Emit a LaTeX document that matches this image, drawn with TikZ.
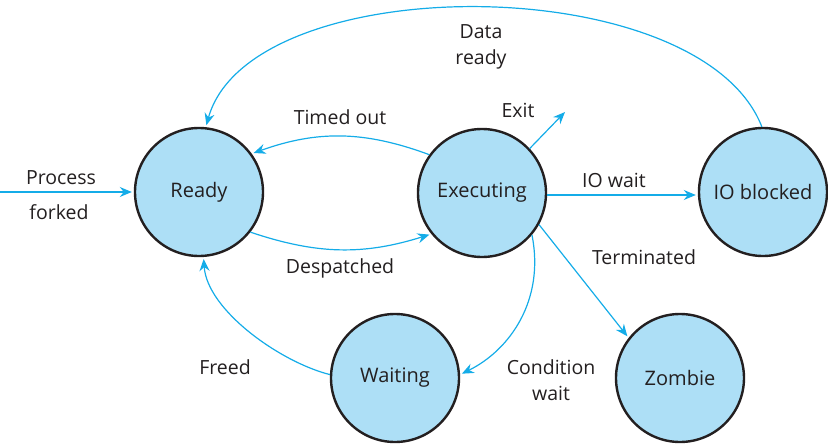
\documentclass[tikz,border=0pt]{standalone}
\usepackage{fontspec}
\setmainfont{Open Sans}
\usetikzlibrary{arrows.meta}
\definecolor{edgec}{RGB}{20,172,232}
\definecolor{fillc}{RGB}{173,223,246}
\definecolor{txtc}{RGB}{35,31,32}
\tikzset{
  state/.style={circle, draw=txtc, line width=2.4pt, fill=fillc, minimum size=128pt, inner sep=0pt, text=txtc, font=\fontsize{20}{24}\selectfont},
  lbl/.style={text=txtc, font=\fontsize{19.5}{26.5}\selectfont, align=center, inner sep=0pt},
  conn/.style={draw=edgec, line width=1.2pt, -{Stealth[length=12pt,width=10pt,inset=4pt]}, shorten >=2pt}
}
\begin{document}
\begin{tikzpicture}[x=1pt,y=1pt]
\useasboundingbox (0,0) rectangle (828,-444);
\node[state] (ready) at (199,-192) {Ready};
\node[state] (ex) at (482,-193) {Executing};
\node[state] (io) at (763,-192) {IO blocked};
\node[state] (wait) at (395,-378) {Waiting};
\node[state] (zom) at (680,-378) {Zombie};
\coordinate (src) at (0,-192);
\coordinate (exitpt) at (565,-112);

\draw[conn] (src) -- (ready.west);
\draw[conn] (ex.144) to[bend right=20] (ready.36);
\draw[conn] (ready.-38) to[bend right=18] (ex.-141);
\draw[conn, shorten >=0pt] (ex.43) -- (exitpt);
\draw[conn] (ex.east |- 0,-195) -- (io.west |- 0,-195);
\draw[conn] (io.91) .. controls (700,32) and (250,32) .. (ready.84);
\draw[conn] (ex.-29) -- (zom.142);
\draw[conn] (ex.-40) .. controls (545,-300) and (510,-350) .. (wait.3);
\draw[conn] (wait.177) .. controls (280,-362) and (207,-310) .. (ready.-86);

\node[lbl] (l1a) at (61,-178) {Process};
\node[lbl] (l1b) at (59,-212) {forked};
\node[lbl] (l2) at (340,-117) {Timed out};
\node[lbl] (l3) at (340,-268) {Despatched};
\node[lbl] (l4) at (518,-110) {Exit};
\node[lbl] (l5) at (614,-180) {IO wait};
\node[lbl] (l6) at (481,-47) {Data\\ready};
\node[lbl] (l7) at (644,-257) {Terminated};
\node[lbl] (l8) at (551,-380) {Condition\\wait};
\node[lbl] (l9) at (225,-367) {Freed};
\end{tikzpicture}
\end{document}
